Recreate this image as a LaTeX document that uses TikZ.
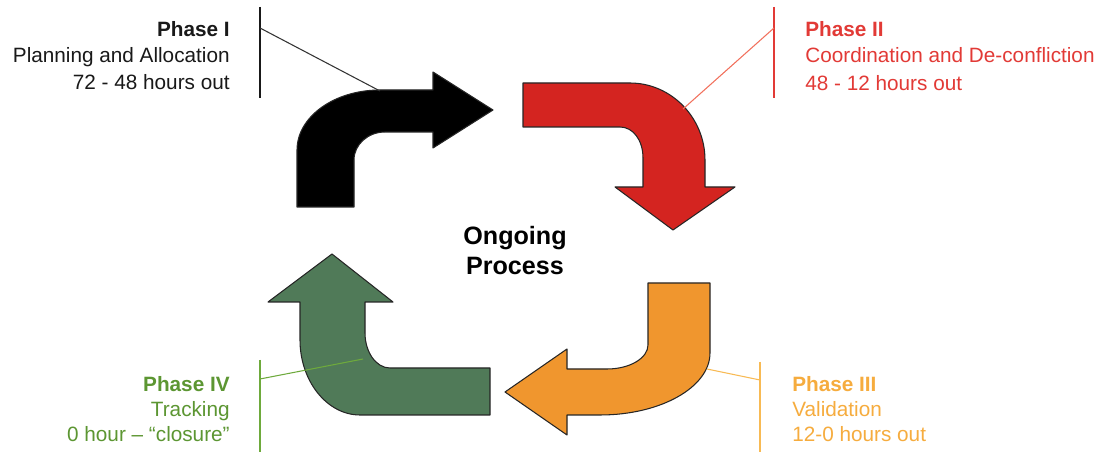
\documentclass[tikz,border=0pt]{standalone}
\usepackage{fontspec}
\setmainfont{Liberation Sans}

\definecolor{redfill}{RGB}{212,36,32}
\definecolor{redtext}{RGB}{226,58,54}
\definecolor{redline}{RGB}{242,112,92}
\definecolor{orangefill}{RGB}{240,150,46}
\definecolor{orangetext}{RGB}{246,172,62}
\definecolor{orangeline}{RGB}{248,186,84}
\definecolor{greenfill}{RGB}{80,122,88}
\definecolor{greentext}{RGB}{92,150,50}
\definecolor{greenline}{RGB}{110,170,60}

\begin{document}
\begin{tikzpicture}[x=0.02cm, y=-0.02cm,
  lbl/.style={font=\fontsize{11.8}{14}\selectfont, inner sep=0pt},
  ttl/.style={font=\fontsize{11.8}{14}\selectfont\bfseries, inner sep=0pt},
  centre/.style={font=\fontsize{14.3}{17}\selectfont\bfseries, inner sep=0pt, anchor=base},
  bent/.style={draw=black!85, line width=0.6pt, line join=round},
  post/.style={line width=0.9pt},
  leader/.style={line width=0.6pt}]

\useasboundingbox (0,0) rectangle (1107,452);
\fill[white] (0,0) rectangle (1107,452);

% ---- Phase I arrow (black, up then right)
\path[bent, fill=black]
  (297,207) -- (354,207) -- (354,160)
  .. controls (354,144.5) and (368,132) .. (385,132)
  -- (433,132) -- (433,148) -- (493,110) -- (433,72) -- (433,90) -- (380,90)
  .. controls (334,90) and (297,117) .. (297,150) -- cycle;

% ---- Phase II arrow (red, right then down)
\path[bent, fill=redfill]
  (523,83) -- (630,83)
  .. controls (671,83) and (705,117.5) .. (705,160)
  -- (705,187) -- (735,187) -- (673,230) -- (615,187) -- (643,187) -- (643,158)
  .. controls (643,140) and (633,127) .. (620,127)
  -- (523,127) -- cycle;

% ---- Phase III arrow (orange, down then left)
\path[bent, fill=orangefill]
  (648,283) -- (710,283) -- (710,353)
  .. controls (710,387) and (661,415) .. (600,415)
  -- (567,415) -- (567,435) -- (505,392) -- (567,349) -- (567,369) -- (607,369)
  .. controls (630,369) and (648,358) .. (648,345) -- cycle;

% ---- Phase IV arrow (green, left then up)
\path[bent, fill=greenfill]
  (490,368) -- (390,368)
  .. controls (376,368) and (365,352) .. (365,333)
  -- (365,302) -- (393,302) -- (332,254) -- (268,302) -- (300,302) -- (300,340)
  .. controls (300,381) and (327,415) .. (360,415)
  -- (490,415) -- cycle;

% ---- centre caption
\node[centre] (ongoing) at (515,245) {Ongoing};
\node[centre] (process) at (515,275) {Process};

% ---- Phase I label
\coordinate (p1top) at (260,7);
\coordinate (p1bot) at (260,98);
\coordinate (p1tap) at (260,28);
\coordinate (p1hit) at (380,91);
\draw[post, black!90] (p1top) -- (p1bot);
\draw[leader, black!80] (p1tap) -- (p1hit);
\node[ttl, anchor=base east, text=black!90] (p1a) at (230,37) {Phase I};
\node[lbl, anchor=base east, text=black!90] (p1b) at (230,63) {Planning and Allocation};
\node[lbl, anchor=base east, text=black!90] (p1c) at (230,90) {72 - 48 hours out};

% ---- Phase II label
\coordinate (p2top) at (774,7);
\coordinate (p2bot) at (774,98);
\coordinate (p2tap) at (774,28);
\coordinate (p2hit) at (683,109);
\draw[post, redtext] (p2top) -- (p2bot);
\draw[leader, redline] (p2tap) -- (p2hit);
\node[ttl, anchor=base west, text=redtext] (p2a) at (805,37) {Phase II};
\node[lbl, anchor=base west, text=redtext] (p2b) at (805,63) {Coordination and De-confliction};
\node[lbl, anchor=base west, text=redtext] (p2c) at (805,91) {48 - 12 hours out};

% ---- Phase III label
\coordinate (p3top) at (760,362);
\coordinate (p3bot) at (760,452);
\coordinate (p3tap) at (760,380);
\coordinate (p3hit) at (707,369);
\draw[post, orangeline] (p3top) -- (p3bot);
\draw[leader, orangeline] (p3tap) -- (p3hit);
\node[ttl, anchor=base west, text=orangetext] (p3a) at (792,392) {Phase III};
\node[lbl, anchor=base west, text=orangetext] (p3b) at (792,417) {Validation};
\node[lbl, anchor=base west, text=orangetext] (p3c) at (792,442) {12-0 hours out};

% ---- Phase IV label
\coordinate (p4top) at (260,360);
\coordinate (p4bot) at (260,452);
\coordinate (p4tap) at (260,379);
\coordinate (p4hit) at (363,359);
\draw[post, greenline] (p4top) -- (p4bot);
\draw[leader, greenline] (p4tap) -- (p4hit);
\node[ttl, anchor=base east, text=greentext] (p4a) at (230,392) {Phase IV};
\node[lbl, anchor=base east, text=greentext] (p4b) at (230,417) {Tracking};
\node[lbl, anchor=base east, text=greentext] (p4c) at (230,442) {0 hour – “closure”};

\end{tikzpicture}
\end{document}
